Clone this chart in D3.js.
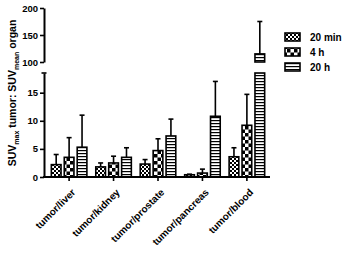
<!DOCTYPE html>
<html><head><meta charset="utf-8">
<script src="https://cdn.jsdelivr.net/npm/d3@7"></script>
<style>body{margin:0;background:#fff}svg{display:block}text{font-family:"Liberation Sans",Arial,sans-serif;font-weight:bold;fill:#000}</style>
</head><body><svg id="c" width="347" height="255"></svg>
<script>
const categories = ["tumor/liver","tumor/kidney","tumor/prostate","tumor/pancreas","tumor/blood"];
const seriesNames = ["20 min","4 h","20 h"];
const mean20min = [2.2, 1.8, 2.3, 0.4, 3.6];
const mean4h    = [3.5, 2.5, 4.7, 0.7, 9.2];
const mean20h   = [5.3, 3.5, 7.3, 10.8, 115];
const err20min  = [4.0, 2.5, 3.1, 0.5, 5.2];
const err4h     = [7.0, 3.7, 6.8, 1.4, 14.7];
const err20h    = [11.0, 5.2, 10.3, 17.0, 175];
const lowerTicks = [0,5,10,15];
const upperTicks = [100,150,200];

const means = [mean20min, mean4h, mean20h];
const errs = [err20min, err4h, err20h];

const svg = d3.select("#c");
const defs = svg.append("defs");
// patterns
const p1 = defs.append("pattern").attr("id","pat0").attr("patternUnits","userSpaceOnUse").attr("width",4).attr("height",4);
p1.append("rect").attr("width",4).attr("height",4).attr("fill","#fff");
p1.append("rect").attr("width",2).attr("height",2).attr("fill","#000");
p1.append("rect").attr("x",2).attr("y",2).attr("width",2).attr("height",2).attr("fill","#000");
const p2 = defs.append("pattern").attr("id","pat1").attr("patternUnits","userSpaceOnUse").attr("width",7).attr("height",7);
p2.append("rect").attr("width",7).attr("height",7).attr("fill","#fff");
p2.append("rect").attr("width",3.5).attr("height",3.5).attr("fill","#000");
p2.append("rect").attr("x",3.5).attr("y",3.5).attr("width",3.5).attr("height",3.5).attr("fill","#000");
const p3 = defs.append("pattern").attr("id","pat2").attr("patternUnits","userSpaceOnUse").attr("width",3).attr("height",3);
p3.append("rect").attr("width",3).attr("height",3).attr("fill","#fff");
p3.append("rect").attr("y",0).attr("width",3).attr("height",1.2).attr("fill","#000");

const x0 = 46, x1 = 270;
const yLow = d3.scaleLinear().domain([0,18.5]).range([177,73]);
const yUp = d3.scaleLinear().domain([100,200]).range([62,8]);
const lowMax = 18.5;
const x = d3.scaleBand().domain(categories).range([x0,x1]).paddingInner(0.2).paddingOuter(0.12);
const xs = d3.scaleBand().domain(d3.range(3)).range([0,x.bandwidth()]).paddingInner(0.25);

const g = svg.append("g");
means.forEach((arr, s) => {
  arr.forEach((v, i) => {
    const bx = x(categories[i]) + xs(s), bw = xs.bandwidth();
    const e = errs[s][i];
    const topLow = yLow(Math.min(v, lowMax));
    g.append("rect").attr("x",bx).attr("y",topLow).attr("width",bw).attr("height",yLow(0)-topLow)
      .attr("fill",`url(#pat${s})`).attr("stroke","#000").attr("stroke-width",1.6);
    let topY;
    if (v > lowMax) {
      topY = yUp(v);
      g.append("rect").attr("x",bx).attr("y",topY).attr("width",bw).attr("height",yUp(100)-topY)
        .attr("fill",`url(#pat${s})`).attr("stroke","#000").attr("stroke-width",1.6);
    } else topY = topLow;
    const ey = e > lowMax ? yUp(e) : yLow(e);
    if (e > v) {
      const cx = bx + bw/2;
      g.append("line").attr("x1",cx).attr("x2",cx).attr("y1",topY).attr("y2",ey).attr("stroke","#000").attr("stroke-width",1.6);
      g.append("line").attr("x1",cx-2.5).attr("x2",cx+2.5).attr("y1",ey).attr("y2",ey).attr("stroke","#000").attr("stroke-width",1.6);
    }
  });
});

// axes
const axL = svg.append("g").attr("transform",`translate(${x0-2},0)`)
  .call(d3.axisLeft(yLow).tickValues(lowerTicks).tickSize(4).tickSizeOuter(0).tickPadding(2));
const axU = svg.append("g").attr("transform",`translate(${x0-2},0)`)
  .call(d3.axisLeft(yUp).tickValues(upperTicks).tickSize(4).tickSizeOuter(0).tickPadding(2));
[axL,axU].forEach(a=>{
  a.select(".domain").attr("stroke","#000").attr("stroke-width",2);
  a.selectAll(".tick line").attr("stroke","#000").attr("stroke-width",1.6);
  a.selectAll(".tick text").attr("font-size",9.5).attr("font-family","Liberation Sans, Arial").attr("font-weight","bold").attr("fill","#000");
});
axL.append("line").attr("x1",-2.5).attr("x2",2.5).attr("y1",yLow(lowMax)).attr("y2",yLow(lowMax)).attr("stroke","#000").attr("stroke-width",1.6);

const axB = svg.append("g").attr("transform",`translate(0,${yLow(0)})`)
  .call(d3.axisBottom(x).tickSize(4).tickSizeOuter(0).tickFormat(""));
axB.select(".domain").attr("d",`M${x0-3},0H${x1}`).attr("stroke","#000").attr("stroke-width",2);
axB.selectAll(".tick line").attr("stroke","#000").attr("stroke-width",1.6);
categories.forEach(c=>{
  svg.append("text").attr("transform",`translate(${x(c)+x.bandwidth()/2+7},${yLow(0)+16}) rotate(-45)`)
    .attr("text-anchor","end").attr("font-size",10).text(c);
});

// y label
const yl = svg.append("text").attr("transform","translate(16,93) rotate(-90)").attr("text-anchor","middle").attr("font-size",10.5);
yl.append("tspan").text("SUV");
yl.append("tspan").attr("font-size",7).attr("dy",2.5).text("max");
yl.append("tspan").attr("dy",-2.5).text(" tumor: SUV");
yl.append("tspan").attr("font-size",7).attr("dy",2.5).text("mean");
yl.append("tspan").attr("dy",-2.5).text(" organ");

// legend
const lg = svg.append("g");
seriesNames.forEach((n,s)=>{
  const ly = 37 + s*15;
  lg.append("rect").attr("x",285).attr("y",ly-4).attr("width",15).attr("height",8)
    .attr("fill",`url(#pat${s})`).attr("stroke","#000").attr("stroke-width",1.6);
  lg.append("text").attr("x",310).attr("y",ly+3.5).attr("font-size",10).text(n);
});
</script></body></html>
